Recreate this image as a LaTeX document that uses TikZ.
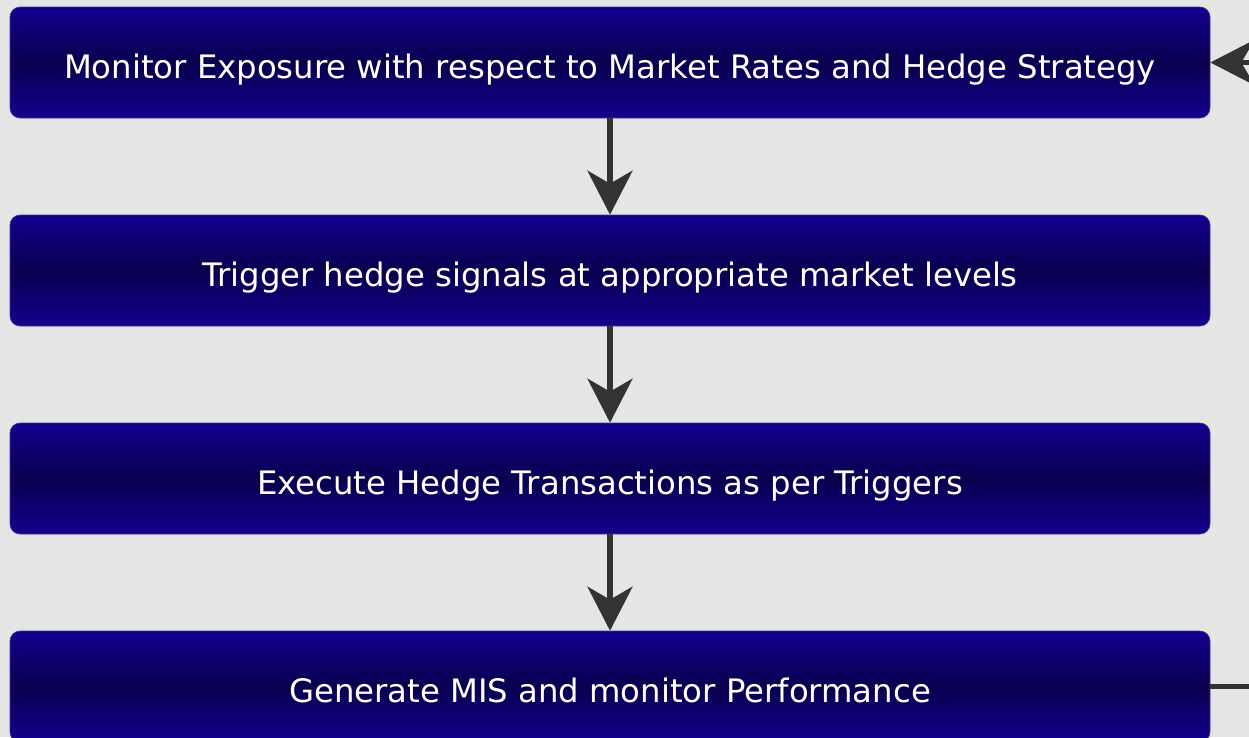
\documentclass[tikz,border=0pt]{standalone}
\usepackage{fontspec}
\setmainfont{DejaVu Sans}
\usetikzlibrary{arrows.meta}
\definecolor{bg}{HTML}{E5E5E5}
\definecolor{boxlight}{HTML}{12008F}
\definecolor{boxdark}{HTML}{0A004E}
\definecolor{arrowgray}{HTML}{333333}
\tikzset{
  x=1pt, y=-1pt,
  stepbox/.style={rectangle, rounded corners=10pt, minimum width=1200pt, minimum height=111pt,
    inner sep=0pt, text height=31pt, text depth=0pt,
    draw=boxlight!80!white, line width=0.6pt,
    top color=boxlight, bottom color=boxlight, middle color=boxdark,
    text=white, font=\fontsize{32.3}{38}\selectfont},
  flow/.style={draw=arrowgray, line width=5.5pt,
    -{Stealth[length=44pt, width=45pt, inset=13pt]}}
}
\begin{document}
\begin{tikzpicture}
  \fill[bg] (0,0) rectangle (1249,737);
  \useasboundingbox (0,0) rectangle (1249,737);
  \clip (0,0) rectangle (1249,737);
  \node[stepbox] (s1) at (610,62.5) {Monitor Exposure with respect to Market Rates and Hedge Strategy};
  \node[stepbox] (s2) at (610,270.5) {Trigger hedge signals at appropriate market levels};
  \node[stepbox] (s3) at (610,478.5) {Execute Hedge Transactions as per Triggers};
  \node[stepbox] (s4) at (610,686.5) {Generate MIS and monitor Performance};
  \draw[flow] (s1) -- (s2);
  \draw[flow] (s2) -- (s3);
  \draw[flow] (s3) -- (s4);
  % feedback loop from the last step back to the first, running off the right edge
  \coordinate (loopB) at (1320,686.5);
  \coordinate (loopT) at (1320,62.5);
  \draw[flow] (s4.east) -- (loopB) -- (loopT) -- (s1.east);
\end{tikzpicture}
\end{document}
